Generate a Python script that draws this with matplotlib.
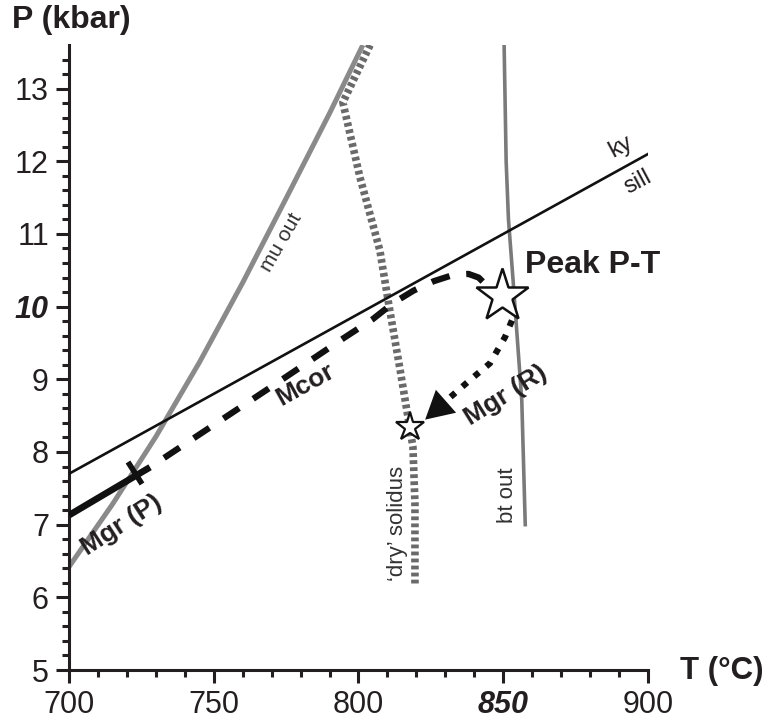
import matplotlib
matplotlib.use('Agg')
import matplotlib.pyplot as plt
from matplotlib.markers import MarkerStyle
from matplotlib.transforms import Affine2D
import numpy as np

plt.rcParams['font.family'] = ['Liberation Sans', 'DejaVu Sans']

# ---- data ----
kysill_T = [700, 900]
kysill_P = [7.7, 12.1]

muout_T = [700, 715, 730, 745, 760, 775, 790, 801.5]
muout_P = [6.42, 7.28, 8.21, 9.23, 10.33, 11.49, 12.66, 13.6]

solidus_T = [804.0, 794.6, 800.5, 807.4, 810.2, 814.5, 818.8, 819.5, 819.5]
solidus_P = [13.6, 12.81, 11.78, 10.77, 10.09, 9.1, 8.07, 7.3, 6.17]

btout_T = [850.3, 851.0, 851.8, 853.4, 856.4, 857.6]
btout_P = [13.6, 12.0, 11.2, 10.36, 8.71, 7.0]

mgrP_T = [700, 728]
mgrP_P = [7.13, 7.79]
mgrP_tick = (722.8, 7.71)

mcor_T = [728, 745, 770, 795, 805, 812, 819, 826, 833, 838, 841.5, 844]
mcor_P = [7.79, 8.24, 8.90, 9.57, 9.83, 10.05, 10.22, 10.35, 10.44, 10.45, 10.40, 10.30]

mgrR_T = [853.0, 850.6, 845.4, 838.5, 831.6, 827.0]
mgrR_P = [9.81, 9.58, 9.22, 8.99, 8.75, 8.60]
arrow_tip = (822.3, 8.42)
arrow_tail = (828.0, 8.62)

peak = (849.5, 10.15)
small_star = (817.8, 8.34)

xticks = [700, 750, 800, 850, 900]
xticklabels = ['700', '750', '800', '850', '900']
yticks = [5, 6, 7, 8, 9, 10, 11, 12, 13]
yticklabels = ['5', '6', '7', '8', '9', '10', '11', '12', '13']

# ---- figure ----
fig = plt.figure(figsize=(7.68, 7.22), dpi=100)
ax = fig.add_axes([0.08984, 0.07202, 0.75391, 0.86565])
ax.set_xlim(700, 900)
ax.set_ylim(5, 13.6)
for s in ['top', 'right']:
    ax.spines[s].set_visible(False)
for s in ['left', 'bottom']:
    ax.spines[s].set_linewidth(2.2)
    ax.spines[s].set_color('#231f20')

ax.set_xticks(xticks, labels=xticklabels)
ax.set_xticks(np.arange(700, 901, 10), minor=True)
ax.set_yticks(yticks, labels=yticklabels)
ax.set_yticks(np.arange(5, 13.5, 0.2), minor=True)
ax.tick_params(which='major', length=9.4, width=2.2, labelsize=22, color='#231f20',
               labelcolor='#231f20', pad=5)
ax.tick_params(which='minor', length=5, width=2.2, color='#231f20')
for lab in ax.get_yticklabels():
    if lab.get_text() == '10':
        lab.set_fontweight('bold'); lab.set_fontstyle('italic')
for lab in ax.get_xticklabels():
    if lab.get_text() == '850':
        lab.set_fontweight('bold'); lab.set_fontstyle('italic')

# lines
ax.plot(muout_T, muout_P, color='#8a8a8a', lw=3.6, solid_capstyle='butt', zorder=2)
ax.plot(solidus_T, solidus_P, color='#6a6a6a', lw=5.5, linestyle=(0, (0.5, 0.42)),
        dash_capstyle='butt', zorder=2)
ax.plot(btout_T, btout_P, color='#7a7a7a', lw=2.6, zorder=2)
ax.plot(kysill_T, kysill_P, color='#111111', lw=1.9, zorder=3)

ax.plot(mgrP_T, mgrP_P, color='#111111', lw=4.8, solid_capstyle='butt', zorder=4)
tick_marker = MarkerStyle('|', transform=Affine2D().rotate_deg(31.6))
ax.plot([mgrP_tick[0]], [mgrP_tick[1]], marker=tick_marker, markersize=18,
        markeredgewidth=4, color='#111111', zorder=4)

ax.plot(mcor_T, mcor_P, color='#111111', lw=4.5, linestyle=(3, (3, 2.7)),
        dash_capstyle='butt', zorder=4)
ax.plot(mgrR_T, mgrR_P, color='#111111', lw=4.5, linestyle=(0, (1, 1.5)),
        dash_capstyle='butt', zorder=4)
ax.annotate('', xy=arrow_tip, xytext=arrow_tail,
            arrowprops=dict(arrowstyle='-|>,head_length=1.0,head_width=0.55',
                            mutation_scale=20, color='#111111', lw=0), zorder=5)

ax.plot([peak[0]], [peak[1]], marker='*', markersize=40, markerfacecolor='white',
        markeredgecolor='#111111', markeredgewidth=1.8, zorder=6)
ax.plot([small_star[0]], [small_star[1]], marker='*', markersize=21, markerfacecolor='white',
        markeredgecolor='#111111', markeredgewidth=1.6, zorder=6)

# labels
tc = '#231f20'
ax.text(890.7, 12.20, 'ky', fontsize=17, rotation=28, ha='center', va='center', color=tc)
ax.text(896.5, 11.71, 'sill', fontsize=17, rotation=28, ha='center', va='center', color=tc)
ax.text(857.5, 10.57, 'Peak P-T', fontsize=23, fontweight='bold', ha='left', va='center', color=tc)
ax.text(773.2, 10.88, 'mu out', fontsize=15, rotation=60, ha='center', va='center', color='#333333')
ax.text(813.6, 7.02, '\u2018dry\u2019 solidus', fontsize=16, rotation=90, ha='center', va='center', color='#333333')
ax.text(851.6, 7.41, 'bt out', fontsize=16, rotation=90, ha='center', va='center', color='#333333')
ax.text(781.5, 8.92, 'Mcor', fontsize=19, fontweight='bold', rotation=29, ha='center', va='center', color=tc)
ax.text(718.3, 6.99, 'Mgr (P)', fontsize=19, fontweight='bold', rotation=33, ha='center', va='center', color=tc)
ax.text(851.0, 8.78, 'Mgr (R)', fontsize=19, fontweight='bold', rotation=32, ha='center', va='center', color=tc)

fig.text(12 / 768, 1 - 20 / 722, 'P (kbar)', fontsize=23, fontweight='bold', ha='left', va='center', color=tc)
fig.text(680 / 768, 1 - 671 / 722, 'T (\u00b0C)', fontsize=22.5, fontweight='bold', ha='left', va='center', color=tc)

fig.savefig('out.png', dpi=100)
